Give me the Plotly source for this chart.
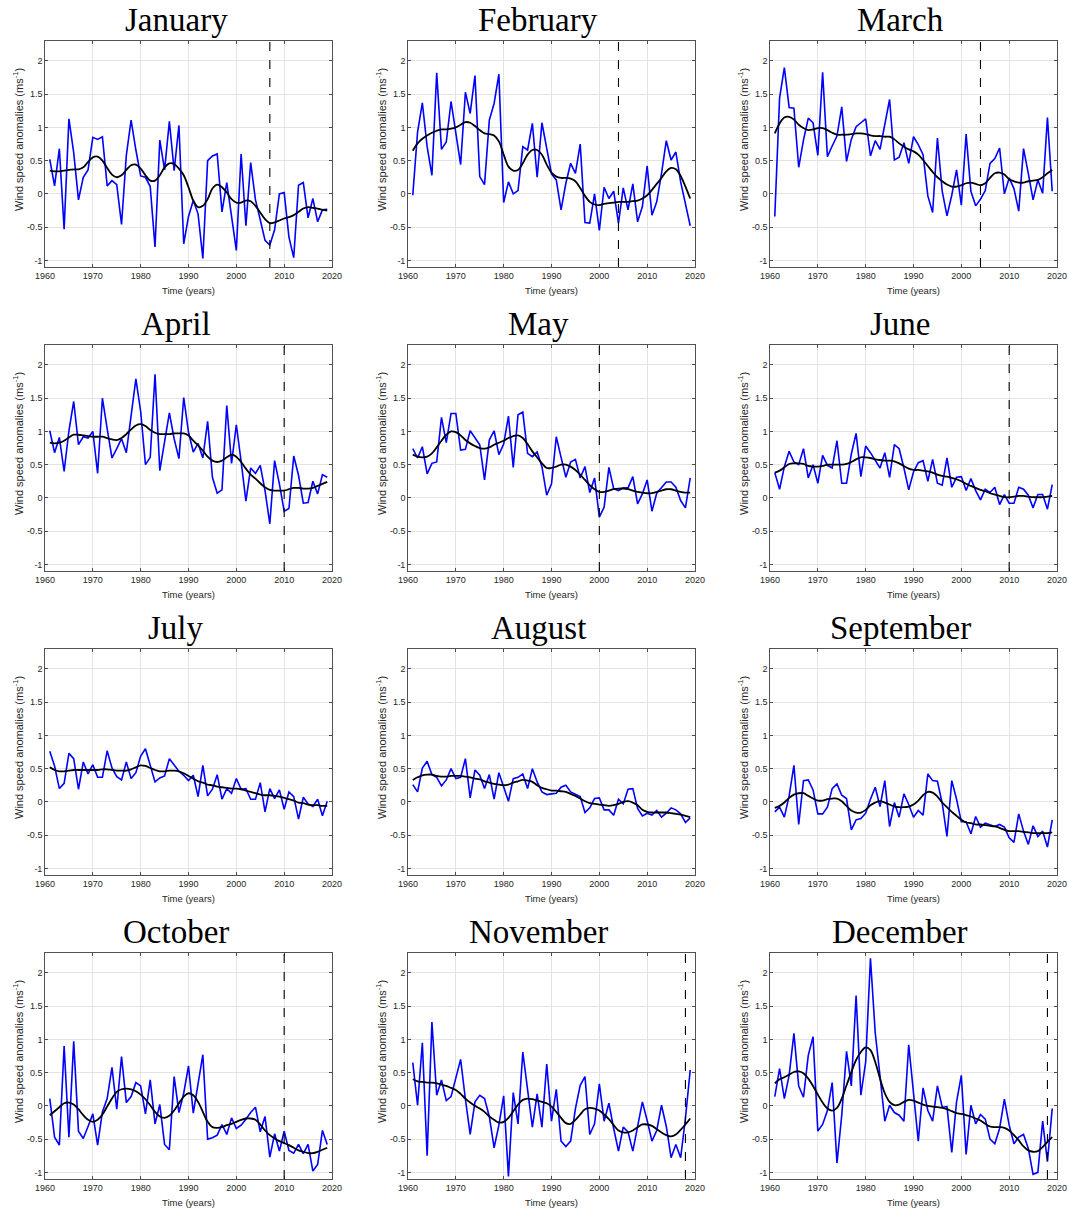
import plotly.graph_objects as go

years = list(range(1961, 2020))
month_names = ["January", "February", "March", "April", "May", "June",
               "July", "August", "September", "October", "November", "December"]

jan_raw = [0.52, 0.12, 0.68, -0.53, 1.13, 0.62, -0.09, 0.25, 0.36, 0.85,
           0.82, 0.86, 0.12, 0.2, 0.14, -0.46, 0.58, 1.11, 0.66, 0.27,
           0.25, 0.11, -0.8, 0.81, 0.36, 1.09, 0.35, 1.03, -0.75, -0.34,
           -0.1, -0.3, -0.97, 0.5, 0.57, 0.6, -0.27, 0.17, -0.34, -0.85,
           0.6, -0.48, 0.47, -0.09, -0.39, -0.7, -0.77, -0.54, 0.0, 0.02,
           -0.65, -0.96, 0.13, 0.17, -0.36, -0.07, -0.42, -0.24, -0.23]
jan_smooth = [0.35, 0.34, 0.34, 0.35, 0.36, 0.37, 0.37, 0.4, 0.48, 0.55,
              0.56, 0.5, 0.39, 0.29, 0.25, 0.28, 0.36, 0.43, 0.44, 0.38,
              0.28, 0.2, 0.2, 0.28, 0.4, 0.46, 0.45, 0.38, 0.28, 0.1,
              -0.1, -0.2, -0.18, -0.08, 0.08, 0.14, 0.1, 0.02, -0.08, -0.13,
              -0.13, -0.1, -0.11, -0.18, -0.28, -0.38, -0.44, -0.43, -0.4, -0.37,
              -0.35, -0.32, -0.27, -0.22, -0.2, -0.21, -0.22, -0.24, -0.25]

feb_raw = [-0.02, 0.93, 1.37, 0.71, 0.28, 1.82, 0.67, 0.78, 1.39, 0.88,
           0.44, 1.53, 1.21, 1.78, 0.26, 0.14, 1.11, 1.36, 1.8, -0.13,
           0.18, 0.0, 0.05, 0.71, 0.66, 1.06, 0.25, 1.07, 0.71, 0.3,
           0.21, -0.24, 0.16, 0.46, 0.31, 0.75, -0.43, -0.44, 0.0, -0.55,
           0.1, -0.07, 0.04, -0.44, 0.09, -0.24, 0.15, -0.42, -0.19, 0.42,
           -0.32, -0.12, 0.31, 0.8, 0.51, 0.63, 0.18, -0.14, -0.48]
feb_smooth = [0.65, 0.76, 0.83, 0.88, 0.92, 0.95, 0.97, 0.97, 0.98, 1.0,
              1.04, 1.08, 1.07, 1.02, 0.96, 0.91, 0.9, 0.88, 0.79, 0.59,
              0.41, 0.35, 0.36, 0.46, 0.59, 0.66, 0.66, 0.59, 0.44, 0.32,
              0.26, 0.24, 0.24, 0.23, 0.19, 0.09, -0.03, -0.12, -0.16, -0.17,
              -0.15, -0.14, -0.13, -0.12, -0.12, -0.12, -0.11, -0.1, -0.07, -0.02,
              0.06, 0.15, 0.24, 0.34, 0.39, 0.37, 0.27, 0.11, -0.07]

mar_raw = [-0.34, 1.44, 1.9, 1.3, 1.29, 0.4, 0.81, 1.14, 1.07, 0.58,
           1.83, 0.56, 0.72, 0.87, 1.31, 0.49, 0.82, 1.01, 1.07, 1.13,
           0.57, 0.8, 0.67, 1.06, 1.42, 0.51, 0.55, 0.77, 0.46, 0.86,
           0.74, 0.59, -0.03, -0.28, 0.84, 0.04, -0.33, -0.02, 0.36, -0.17,
           0.9, 0.04, -0.18, -0.08, 0.05, 0.46, 0.53, 0.69, 0.0, 0.24,
           0.08, -0.26, 0.68, 0.31, -0.09, 0.21, 0.01, 1.15, 0.04]
mar_smooth = [0.91, 1.06, 1.15, 1.16, 1.12, 1.04, 0.99, 0.96, 0.97, 0.99,
              0.99, 0.96, 0.92, 0.89, 0.89, 0.89, 0.9, 0.91, 0.91, 0.9,
              0.88, 0.87, 0.87, 0.86, 0.86, 0.82, 0.76, 0.71, 0.67, 0.64,
              0.59, 0.51, 0.42, 0.33, 0.25, 0.19, 0.14, 0.11, 0.11, 0.13,
              0.16, 0.17, 0.15, 0.13, 0.16, 0.24, 0.31, 0.32, 0.29, 0.22,
              0.19, 0.17, 0.17, 0.19, 0.2, 0.21, 0.25, 0.31, 0.36]

apr_raw = [1.01, 0.68, 0.91, 0.4, 1.01, 1.45, 0.8, 0.92, 0.9, 1.0,
           0.37, 1.5, 1.04, 0.6, 0.74, 0.89, 0.68, 1.26, 1.79, 1.3,
           0.5, 0.61, 1.86, 0.41, 0.85, 1.28, 0.89, 0.59, 1.51, 0.99,
           0.69, 0.82, 0.6, 1.15, 0.31, 0.07, 0.12, 1.39, 0.52, 1.1,
           0.55, -0.05, 0.45, 0.37, 0.49, 0.11, -0.39, 0.56, 0.21, -0.2,
           -0.16, 0.63, 0.34, -0.08, -0.07, 0.25, 0.06, 0.35, 0.31]
apr_smooth = [0.83, 0.82, 0.83, 0.86, 0.91, 0.95, 0.95, 0.94, 0.93, 0.92,
              0.92, 0.92, 0.9, 0.88, 0.87, 0.9, 0.96, 1.03, 1.09, 1.11,
              1.08, 1.02, 0.98, 0.96, 0.96, 0.96, 0.97, 0.97, 0.97, 0.94,
              0.86, 0.79, 0.71, 0.62, 0.56, 0.54, 0.56, 0.61, 0.65, 0.62,
              0.54, 0.44, 0.35, 0.29, 0.22, 0.16, 0.12, 0.11, 0.11, 0.11,
              0.13, 0.15, 0.15, 0.14, 0.14, 0.15, 0.18, 0.21, 0.24]

may_raw = [0.74, 0.6, 0.77, 0.36, 0.52, 0.54, 1.21, 0.83, 1.27, 1.27,
           0.72, 0.73, 1.01, 0.9, 0.8, 0.27, 0.87, 1.01, 0.65, 0.81,
           1.23, 0.46, 1.25, 1.29, 0.67, 0.62, 0.69, 0.47, 0.04, 0.21,
           0.92, 0.61, 0.31, 0.54, 0.58, 0.3, 0.47, 0.08, 0.3, -0.29,
           -0.14, 0.46, 0.14, 0.11, 0.15, 0.15, 0.32, -0.09, 0.06, 0.27,
           -0.2, 0.07, 0.16, 0.24, 0.24, 0.16, -0.04, -0.15, 0.3]
may_smooth = [0.65, 0.62, 0.61, 0.62, 0.67, 0.76, 0.86, 0.95, 1.0, 0.99,
              0.94, 0.87, 0.82, 0.78, 0.75, 0.74, 0.76, 0.8, 0.83, 0.86,
              0.9, 0.93, 0.94, 0.9, 0.81, 0.7, 0.61, 0.52, 0.45, 0.45,
              0.47, 0.5, 0.5, 0.47, 0.42, 0.35, 0.27, 0.19, 0.13, 0.09,
              0.09, 0.11, 0.13, 0.14, 0.14, 0.13, 0.11, 0.09, 0.08, 0.07,
              0.07, 0.09, 0.11, 0.13, 0.13, 0.11, 0.09, 0.08, 0.08]

jun_raw = [0.38, 0.13, 0.47, 0.7, 0.54, 0.5, 0.74, 0.3, 0.5, 0.22,
           0.64, 0.49, 0.45, 0.86, 0.22, 0.22, 0.66, 0.97, 0.32, 0.78,
           0.68, 0.56, 0.45, 0.68, 0.31, 0.8, 0.74, 0.45, 0.12, 0.39,
           0.53, 0.56, 0.25, 0.58, 0.22, 0.19, 0.6, 0.16, 0.31, 0.32,
           0.11, 0.29, 0.11, -0.03, 0.13, 0.08, 0.16, -0.1, 0.05, -0.08,
           -0.08, 0.16, 0.13, 0.04, -0.15, 0.05, 0.05, -0.17, 0.2]
jun_smooth = [0.38, 0.41, 0.46, 0.51, 0.52, 0.52, 0.51, 0.48, 0.47, 0.47,
              0.48, 0.5, 0.5, 0.5, 0.5, 0.51, 0.54, 0.58, 0.61, 0.61,
              0.6, 0.58, 0.57, 0.56, 0.56, 0.55, 0.52, 0.48, 0.44, 0.42,
              0.42, 0.41, 0.4, 0.38, 0.35, 0.33, 0.32, 0.3, 0.28, 0.25,
              0.21, 0.18, 0.15, 0.12, 0.1, 0.07, 0.05, 0.03, 0.01, 0.01,
              0.02, 0.03, 0.03, 0.02, 0.01, 0.01, 0.01, 0.02, 0.03]

jul_raw = [0.76, 0.54, 0.2, 0.28, 0.73, 0.65, 0.19, 0.6, 0.42, 0.56,
           0.37, 0.37, 0.77, 0.51, 0.38, 0.33, 0.6, 0.35, 0.44, 0.69,
           0.8, 0.56, 0.3, 0.36, 0.39, 0.65, 0.55, 0.46, 0.4, 0.32,
           0.4, 0.08, 0.55, 0.09, 0.19, 0.41, 0.04, 0.2, 0.13, 0.35,
           0.19, 0.2, 0.04, 0.04, 0.29, -0.15, 0.2, 0.05, 0.18, -0.11,
           0.15, 0.08, -0.26, 0.07, -0.03, -0.07, 0.04, -0.21, 0.01]
jul_smooth = [0.52, 0.48, 0.46, 0.46, 0.47, 0.48, 0.48, 0.48, 0.48, 0.48,
              0.48, 0.49, 0.49, 0.48, 0.47, 0.47, 0.47, 0.49, 0.52, 0.55,
              0.54, 0.51, 0.48, 0.46, 0.46, 0.47, 0.47, 0.46, 0.43, 0.39,
              0.35, 0.31, 0.29, 0.26, 0.25, 0.23, 0.22, 0.21, 0.2, 0.2,
              0.19, 0.17, 0.15, 0.13, 0.11, 0.1, 0.1, 0.09, 0.08, 0.06,
              0.04, 0.02, -0.01, -0.02, -0.04, -0.05, -0.05, -0.06, -0.06]

aug_raw = [0.26, 0.15, 0.51, 0.61, 0.41, 0.37, 0.24, 0.33, 0.5, 0.35,
           0.37, 0.65, 0.06, 0.48, 0.4, 0.2, 0.41, 0.04, 0.44, 0.21,
           0.01, 0.35, 0.37, 0.42, 0.2, 0.5, 0.3, 0.15, 0.11, 0.12,
           0.13, 0.22, 0.25, 0.15, 0.12, 0.08, -0.16, -0.09, 0.05, 0.06,
           -0.12, -0.12, -0.2, 0.04, -0.03, 0.19, 0.2, -0.1, -0.21, -0.17,
           -0.2, -0.13, -0.23, -0.17, -0.09, -0.12, -0.18, -0.31, -0.24]
aug_smooth = [0.33, 0.37, 0.4, 0.41, 0.41, 0.39, 0.38, 0.38, 0.39, 0.39,
              0.39, 0.38, 0.37, 0.35, 0.34, 0.31, 0.29, 0.27, 0.26, 0.25,
              0.26, 0.29, 0.31, 0.33, 0.32, 0.3, 0.25, 0.21, 0.19, 0.17,
              0.17, 0.16, 0.15, 0.12, 0.09, 0.05, 0.01, -0.02, -0.03, -0.04,
              -0.05, -0.06, -0.05, -0.03, 0.0, 0.01, -0.01, -0.05, -0.12, -0.15,
              -0.16, -0.16, -0.16, -0.16, -0.17, -0.18, -0.19, -0.21, -0.23]

sep_raw = [-0.15, -0.08, -0.23, 0.09, 0.55, -0.34, 0.32, 0.33, 0.18, -0.18,
           -0.18, -0.08, 0.2, 0.27, 0.1, 0.05, -0.42, -0.27, -0.25, -0.17,
           0.04, 0.22, -0.07, 0.32, -0.37, -0.01, -0.23, 0.12, -0.04, -0.23,
           -0.13, -0.2, 0.42, 0.32, 0.31, -0.02, -0.52, 0.32, 0.04, -0.3,
           -0.3, -0.48, -0.22, -0.38, -0.32, -0.35, -0.37, -0.34, -0.38, -0.54,
           -0.61, -0.18, -0.44, -0.64, -0.36, -0.52, -0.44, -0.68, -0.27]
sep_smooth = [-0.09, -0.06, -0.01, 0.06, 0.11, 0.13, 0.13, 0.09, 0.05, 0.02,
              0.02, 0.04, 0.05, 0.05, 0.01, -0.06, -0.13, -0.16, -0.16, -0.12,
              -0.05, -0.01, 0.01, -0.01, -0.04, -0.07, -0.08, -0.08, -0.07, -0.04,
              0.02, 0.1, 0.15, 0.14, 0.08, -0.01, -0.08, -0.15, -0.21, -0.27,
              -0.31, -0.32, -0.34, -0.34, -0.35, -0.36, -0.37, -0.39, -0.42, -0.44,
              -0.44, -0.44, -0.45, -0.46, -0.47, -0.47, -0.47, -0.47, -0.46]

oct_raw = [0.11, -0.47, -0.59, 0.9, -0.47, 0.97, -0.38, -0.49, -0.31, -0.12,
           -0.59, -0.09, 0.11, 0.58, -0.05, 0.74, 0.05, 0.14, 0.35, 0.3,
           -0.12, 0.39, -0.27, 0.02, -0.58, -0.66, 0.44, -0.1, 0.19, 0.6,
           -0.11, 0.31, 0.77, -0.5, -0.48, -0.44, -0.28, -0.43, -0.18, -0.34,
           -0.29, -0.2, -0.1, -0.02, -0.39, -0.16, -0.77, -0.42, -0.68, -0.38,
           -0.67, -0.71, -0.58, -0.72, -0.58, -0.98, -0.88, -0.37, -0.58]
oct_smooth = [-0.14, -0.08, -0.02, 0.04, 0.05, 0.02, -0.05, -0.14, -0.21, -0.24,
              -0.21, -0.13, -0.01, 0.11, 0.21, 0.25, 0.26, 0.25, 0.22, 0.17,
              0.1, 0.01, -0.09, -0.16, -0.18, -0.15, -0.07, 0.04, 0.14, 0.19,
              0.16, 0.06, -0.09, -0.24, -0.32, -0.33, -0.32, -0.29, -0.27, -0.24,
              -0.21, -0.19, -0.19, -0.21, -0.28, -0.37, -0.44, -0.49, -0.53, -0.56,
              -0.59, -0.63, -0.67, -0.69, -0.71, -0.71, -0.69, -0.66, -0.63]

nov_raw = [0.65, 0.01, 0.95, -0.75, 1.26, 0.16, 0.39, 0.08, 0.14, 0.42,
           0.7, 0.1, -0.43, 0.06, 0.16, 0.11, -0.16, -0.63, -0.29, 0.15,
           -1.06, 0.2, -0.27, 0.81, 0.21, -0.32, 0.18, -0.32, 0.63, -0.23,
           0.25, -0.53, -0.61, -0.53, -0.04, 0.31, 0.44, -0.43, -0.27, 0.33,
           -0.23, 0.04, -0.34, -0.68, -0.32, -0.39, -0.68, -0.32, 0.06, -0.22,
           -0.53, -0.37, 0.01, -0.31, -0.78, -0.58, -0.78, -0.19, 0.54]
nov_smooth = [0.4, 0.37, 0.36, 0.35, 0.35, 0.34, 0.32, 0.3, 0.27, 0.24,
              0.18, 0.11, 0.05, 0.0, -0.04, -0.09, -0.16, -0.21, -0.25, -0.24,
              -0.18, -0.08, 0.02, 0.09, 0.11, 0.1, 0.08, 0.06, 0.04, -0.01,
              -0.09, -0.18, -0.26, -0.27, -0.21, -0.13, -0.05, -0.03, -0.04, -0.07,
              -0.13, -0.2, -0.29, -0.37, -0.4, -0.4, -0.37, -0.32, -0.28, -0.28,
              -0.3, -0.35, -0.4, -0.44, -0.46, -0.43, -0.36, -0.28, -0.19]

dec_raw = [0.14, 0.56, 0.11, 0.46, 1.09, 0.3, 0.13, 0.76, 1.04, -0.38,
           -0.28, -0.07, 0.35, -0.86, -0.14, 0.82, 0.3, 1.66, 0.16, 0.66,
           2.22, 1.1, 0.45, -0.23, 0.01, -0.1, -0.14, -0.23, 0.92, 0.2,
           -0.53, 0.27, -0.07, -0.23, 0.3, -0.02, -0.01, -0.7, 0.06, 0.46,
           -0.73, 0.01, -0.27, -0.13, -0.2, -0.5, -0.57, -0.34, 0.1, -0.29,
           -0.57, -0.47, -0.43, -0.64, -1.03, -1.0, -0.23, -0.84, -0.04]
dec_smooth = [0.34, 0.4, 0.43, 0.47, 0.51, 0.52, 0.49, 0.41, 0.3, 0.17,
              0.05, -0.04, -0.07, -0.03, 0.11, 0.31, 0.51, 0.69, 0.81, 0.88,
              0.84, 0.66, 0.41, 0.19, 0.06, 0.01, 0.02, 0.06, 0.09, 0.08,
              0.05, 0.02, 0.0, -0.01, -0.02, -0.03, -0.05, -0.08, -0.11, -0.12,
              -0.14, -0.16, -0.19, -0.22, -0.27, -0.31, -0.32, -0.32, -0.33, -0.37,
              -0.44, -0.52, -0.61, -0.67, -0.69, -0.68, -0.62, -0.54, -0.47]

raw_series = [jan_raw, feb_raw, mar_raw, apr_raw, may_raw, jun_raw,
              jul_raw, aug_raw, sep_raw, oct_raw, nov_raw, dec_raw]
smooth_series = [jan_smooth, feb_smooth, mar_smooth, apr_smooth, may_smooth, jun_smooth,
                 jul_smooth, aug_smooth, sep_smooth, oct_smooth, nov_smooth, dec_smooth]
break_years = [2007, 2004, 2004, 2010, 2000, 2010, None, None, None, 2010, 2018, 2018]

x_ticks = [1960, 1970, 1980, 1990, 2000, 2010, 2020]
y_ticks = [-1, -0.5, 0, 0.5, 1, 1.5, 2]
y_tick_labels = ["-1", "-0.5", "0", "0.5", "1", "1.5", "2"]

W, H = 1069, 1210
OFF = 0  # page body margin removed by post_script below
col_px = [(45, 332), (408, 695), (770, 1057)]
row_px = [(41, 267), (345, 571), (649, 875), (953, 1179)]
title_cx = [176, 538, 900]
ylab_cx = [18, 381, 743]


def px_x(p):
    return (p - OFF) / W


def px_y(p):
    return 1 - (p - OFF) / H


AX_COLOR = "#262626"
GRID = "#e3e3e3"
SANS = "Liberation Sans, Arial, sans-serif"
SERIF = "Liberation Serif, Times New Roman, serif"

fig = go.Figure()
annotations = []
shapes = []
layout_axes = {}

for i in range(12):
    r, c = divmod(i, 3)
    n = i + 1
    xa = "x" if n == 1 else f"x{n}"
    ya = "y" if n == 1 else f"y{n}"
    xkey = "xaxis" if n == 1 else f"xaxis{n}"
    ykey = "yaxis" if n == 1 else f"yaxis{n}"
    x0p, x1p = col_px[c]
    y0p, y1p = row_px[r]

    fig.add_trace(go.Scatter(x=years, y=raw_series[i], mode="lines",
                             line=dict(color="#0000ff", width=1.6),
                             xaxis=xa, yaxis=ya, showlegend=False, hoverinfo="skip"))
    fig.add_trace(go.Scatter(x=years, y=smooth_series[i], mode="lines",
                             line=dict(color="#000000", width=1.8, shape="spline", smoothing=1.0),
                             xaxis=xa, yaxis=ya, showlegend=False, hoverinfo="skip"))

    common = dict(
        ticks="inside", ticklen=3, tickwidth=0.8, tickcolor=AX_COLOR,
        showline=True, linecolor=AX_COLOR, linewidth=0.8, mirror="ticks",
        showgrid=True, gridcolor=GRID, gridwidth=1, zeroline=False,
        tickfont=dict(family=SANS, size=9, color=AX_COLOR), fixedrange=True,
        automargin=False,
    )
    layout_axes[xkey] = dict(
        domain=[px_x(x0p), px_x(x1p)], anchor=ya, range=[1960, 2020],
        tickmode="array", tickvals=x_ticks, ticktext=[str(t) for t in x_ticks],
        **common,
    )
    layout_axes[ykey] = dict(
        domain=[px_y(y1p), px_y(y0p)], anchor=xa, range=[-1.1, 2.3],
        tickmode="array", tickvals=y_ticks, ticktext=y_tick_labels,
        **common,
    )

    if break_years[i] is not None:
        shapes.append(dict(type="line", xref=xa, yref=f"{ya} domain",
                           x0=break_years[i], x1=break_years[i], y0=0, y1=1,
                           line=dict(color="black", width=1.1, dash="dash")))

    annotations.append(dict(text=month_names[i], xref="paper", yref="paper",
                            x=px_x(title_cx[c]), y=px_y(y0p - 41),
                            xanchor="center", yanchor="top", showarrow=False,
                            font=dict(family=SERIF, size=33, color="black")))
    annotations.append(dict(text="Time (years)", xref="paper", yref="paper",
                            x=px_x((x0p + x1p) / 2), y=px_y(y1p + 23),
                            xanchor="center", yanchor="middle", showarrow=False,
                            font=dict(family=SANS, size=9.5, color=AX_COLOR)))
    annotations.append(dict(text="Wind speed anomalies (ms<sup>-1</sup>)", xref="paper", yref="paper",
                            x=px_x(ylab_cx[c]), y=px_y(y0p + 99),
                            xanchor="center", yanchor="middle", showarrow=False, textangle=-90,
                            font=dict(family=SANS, size=11, color=AX_COLOR)))

fig.update_layout(width=W, height=H, margin=dict(l=0, r=0, t=0, b=0, pad=0),
                  autosize=False,
                  paper_bgcolor="white", plot_bgcolor="white", showlegend=False,
                  annotations=annotations, shapes=shapes, **layout_axes)

fig.write_html("out.html",
               config={"displayModeBar": False, "staticPlot": True},
               post_script="document.body.style.margin='0';document.body.style.padding='0';")
